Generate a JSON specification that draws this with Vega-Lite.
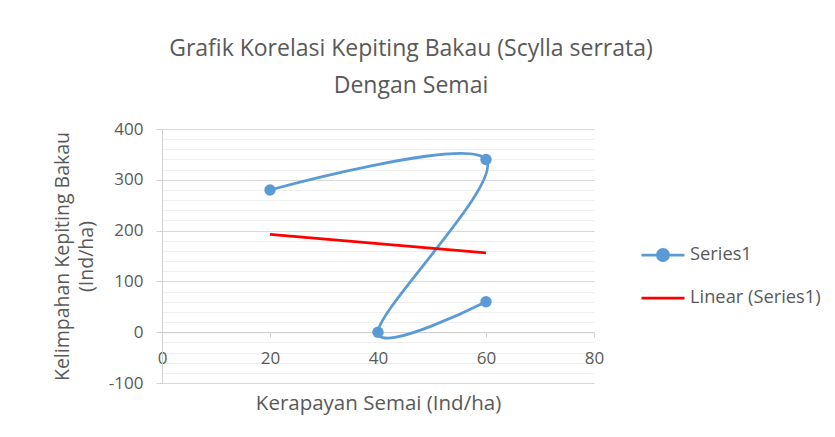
{
  "$schema": "https://vega.github.io/schema/vega-lite/v6.json",
  "autosize": {"type": "none"},
  "width": 432,
  "height": 254,
  "padding": {"left": 162, "top": 129, "right": 241, "bottom": 54},
  "background": "white",
  "title": {
    "text": ["Grafik Korelasi Kepiting Bakau (Scylla serrata)", "Dengan Semai"],
    "font": "Open Sans",
    "fontSize": 23,
    "fontWeight": "normal",
    "color": "#595959",
    "anchor": "middle",
    "frame": "group",
    "dx": 33,
    "offset": 22,
    "lineHeight": 37
  },
  "config": {
    "view": {"stroke": null},
    "font": "Open Sans",
    "axis": {
      "labelFont": "Open Sans",
      "labelFontSize": 17,
      "labelColor": "#595959",
      "labelFlush": false,
      "labelOverlap": false,
      "titleFont": "Open Sans",
      "titleFontWeight": "normal",
      "titleColor": "#595959",
      "domainColor": "#d0d0d0",
      "tickColor": "#d0d0d0",
      "domainWidth": 1,
      "tickWidth": 1
    }
  },
  "datasets": {
    "series": [
      {"x": 20, "y": 280, "i": 1},
      {"x": 60, "y": 340, "i": 2},
      {"x": 40, "y": 0, "i": 3},
      {"x": 60, "y": 60, "i": 4}
    ],
    "trend": [
      {"x": 20, "y": 192.728},
      {"x": 60, "y": 156.364}
    ]
  },
  "encoding": {
    "x": {
      "field": "x",
      "type": "quantitative",
      "scale": {"domain": [0, 80], "nice": false, "zero": false},
      "axis": {
        "values": [0, 20, 40, 60, 80],
        "offset": -50.8,
        "grid": false,
        "tickSize": 5,
        "labelPadding": 13,
        "title": "Kerapayan Semai (Ind/ha)",
        "titleFontSize": 20.5,
        "titlePadding": 27
      }
    },
    "y": {
      "field": "y",
      "type": "quantitative",
      "scale": {"domain": [-100, 400], "nice": false, "zero": false},
      "axis": {
        "values": [-100, -80, -60, -40, -20, 0, 20, 40, 60, 80, 100, 120, 140, 160, 180, 200, 220, 240, 260, 280, 300, 320, 340, 360, 380, 400],
        "labelExpr": "datum.value % 100 === 0 ? '' + datum.value : ''",
        "grid": true,
        "gridColor": {"condition": {"test": "datum.value % 100 === 0", "value": "#d9d9d9"}, "value": "#efefef"},
        "gridWidth": 1,
        "tickOpacity": {"condition": {"test": "datum.value % 100 === 0", "value": 1}, "value": 0},
        "tickSize": 6,
        "labelPadding": 13,
        "title": ["Kelimpahan Kepiting Bakau", "(Ind/ha)"],
        "titleFontSize": 19.5,
        "titlePadding": 12,
        "titleLineHeight": 24
      }
    }
  },
  "layer": [
    {
      "data": {"name": "series"},
      "mark": {"type": "line", "interpolate": "cardinal", "tension": 0, "strokeWidth": 2.75},
      "encoding": {
        "order": {"field": "i", "type": "quantitative"},
        "color": {
          "datum": "Series1",
          "type": "nominal",
          "scale": {"domain": ["Series1", "Linear (Series1)"], "range": ["#5b9bd5", "#ff0000"]},
          "legend": {
            "orient": "none",
            "legendX": 478,
            "legendY": 103,
            "title": null,
            "symbolType": "stroke",
            "symbolSize": 1849,
            "symbolStrokeWidth": 2.75,
            "labelFont": "Open Sans",
            "labelFontSize": 18.3,
            "labelColor": "#595959",
            "labelOffset": 4,
            "rowPadding": 8,
            "encode": {
              "symbols": {
                "update": {
                  "shape": {"signal": "datum.value === 'Series1' ? 'M-1,0L1,0M-0.26,0A0.26,0.26,0,1,0,0.26,0A0.26,0.26,0,1,0,-0.26,0Z' : 'M-1,0L1,0'"},
                  "fill": {"signal": "datum.value === 'Series1' ? '#5b9bd5' : 'transparent'"}
                }
              }
            }
          }
        }
      }
    },
    {
      "data": {"name": "series"},
      "mark": {"type": "point", "filled": true, "size": 130, "opacity": 1},
      "encoding": {
        "color": {"datum": "Series1", "type": "nominal"}
      }
    },
    {
      "data": {"name": "trend"},
      "mark": {"type": "line", "strokeWidth": 2.75},
      "encoding": {
        "color": {"datum": "Linear (Series1)", "type": "nominal"}
      }
    },
    {
      "mark": {
        "type": "text",
        "font": "Open Sans",
        "fontSize": 15,
        "color": "#595959",
        "align": "center",
        "baseline": "middle",
        "lineHeight": 26,
        "text": ["y = -0.9091x + 210.91", "R² = 0.0111"]
      },
      "encoding": {
        "x": {"datum": 22.1, "type": "quantitative"},
        "y": {"datum": 71.5, "type": "quantitative"}
      }
    }
  ]
}
